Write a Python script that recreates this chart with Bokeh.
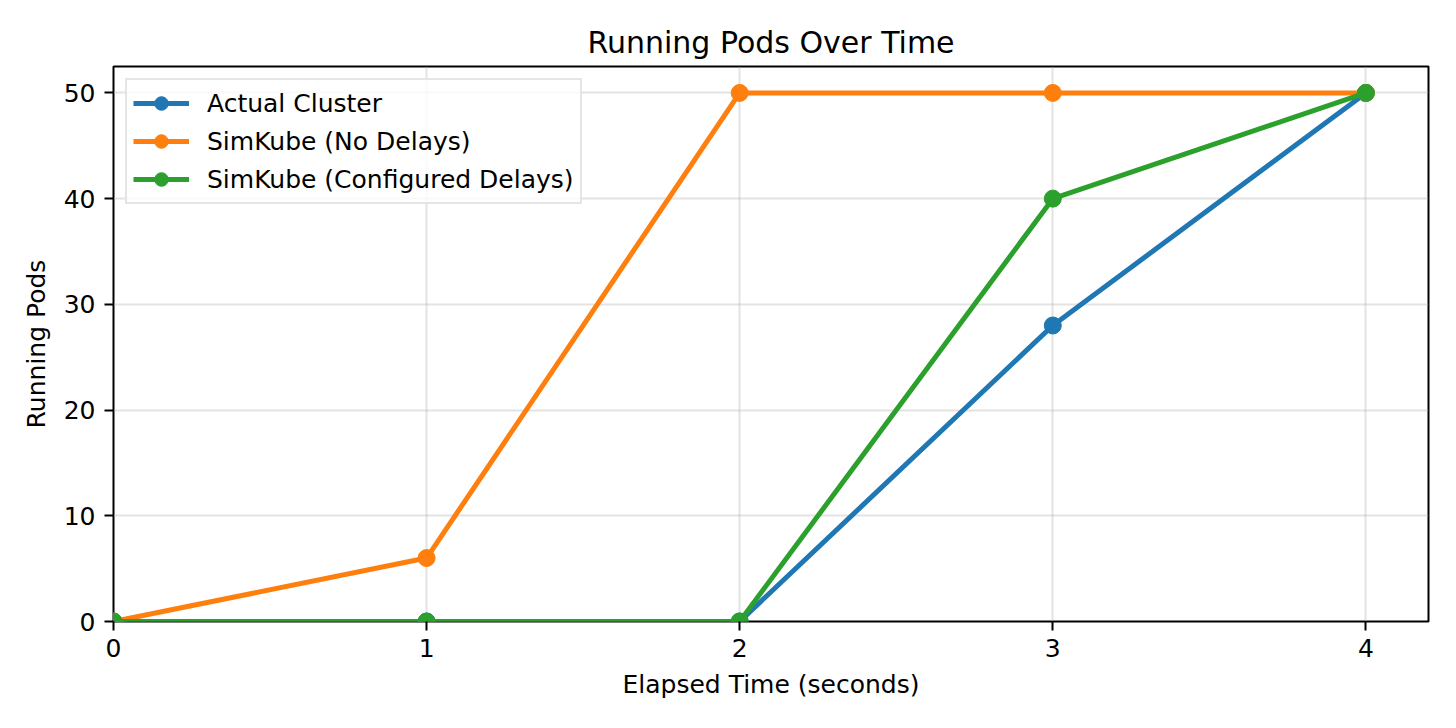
from bokeh.plotting import figure
from bokeh.models import Range1d, FixedTicker, Legend, LegendItem
from bokeh.embed import file_html
from bokeh.resources import INLINE

elapsed = [0, 1, 2, 3, 4]
actual_cluster = [0, 0, 0, 28, 50]
simkube_no_delays = [0, 6, 50, 50, 50]
simkube_configured = [0, 0, 0, 40, 50]

series = [
    ("Actual Cluster", actual_cluster, "#1f77b4"),
    ("SimKube (No Delays)", simkube_no_delays, "#ff7f0e"),
    ("SimKube (Configured Delays)", simkube_configured, "#2ca02c"),
]

FONT = "DejaVu Sans"

p = figure(width=1456, height=728, output_backend="svg", toolbar_location=None,
           x_range=Range1d(0, 4.2), y_range=Range1d(0, 52.5),
           min_border_left=113, min_border_right=28, min_border_top=66, min_border_bottom=107)

p.title.text = "Running Pods Over Time"
p.title.align = "center"
p.title.text_font = FONT
p.title.text_font_size = "30px"
p.title.text_font_style = "normal"
p.title.text_color = "black"
p.title.standoff = 13

p.outline_line_color = "black"
p.outline_line_width = 2
p.outline_line_alpha = 1.0

for ax in (p.xaxis[0], p.yaxis[0]):
    ax.axis_line_color = None
    ax.major_tick_line_color = "black"
    ax.major_tick_line_width = 2
    ax.major_tick_out = 9
    ax.major_tick_in = 0
    ax.minor_tick_line_color = None
    ax.major_label_text_font = FONT
    ax.major_label_text_font_size = "25px"
    ax.major_label_text_color = "black"
    ax.axis_label_text_font = FONT
    ax.axis_label_text_font_size = "25px"
    ax.axis_label_text_font_style = "normal"
    ax.axis_label_text_color = "black"

p.xaxis[0].ticker = FixedTicker(ticks=elapsed)
p.yaxis[0].ticker = FixedTicker(ticks=[0, 10, 20, 30, 40, 50])
p.xaxis[0].axis_label = "Elapsed Time (seconds)"
p.yaxis[0].axis_label = "Running Pods"
p.xaxis[0].major_label_standoff = 8
p.yaxis[0].major_label_standoff = 9
p.xaxis[0].axis_label_standoff = 10
p.yaxis[0].axis_label_standoff = 10

p.xgrid.grid_line_color = "#b0b0b0"
p.ygrid.grid_line_color = "#b0b0b0"
p.xgrid.grid_line_alpha = 0.35
p.ygrid.grid_line_alpha = 0.35
p.xgrid.grid_line_width = 2
p.ygrid.grid_line_width = 2

items = []
for label, vals, color in series:
    l = p.line(elapsed, vals, line_color=color, line_width=5)
    s = p.scatter(elapsed, vals, size=17, fill_color=color, line_color=color)
    items.append(LegendItem(label=label, renderers=[l, s]))

legend = Legend(items=items, location="top_left")
legend.label_text_font = FONT
legend.label_text_font_size = "25px"
legend.label_text_color = "black"
legend.glyph_width = 56
legend.glyph_height = 34
legend.label_standoff = 18
legend.label_height = 34
legend.spacing = 4
legend.padding = 6
legend.margin = 12
legend.border_line_color = "#cccccc"
legend.border_line_width = 2
legend.background_fill_alpha = 0.8
p.add_layout(legend)

open("out.html", "w").write(file_html(p, INLINE))
